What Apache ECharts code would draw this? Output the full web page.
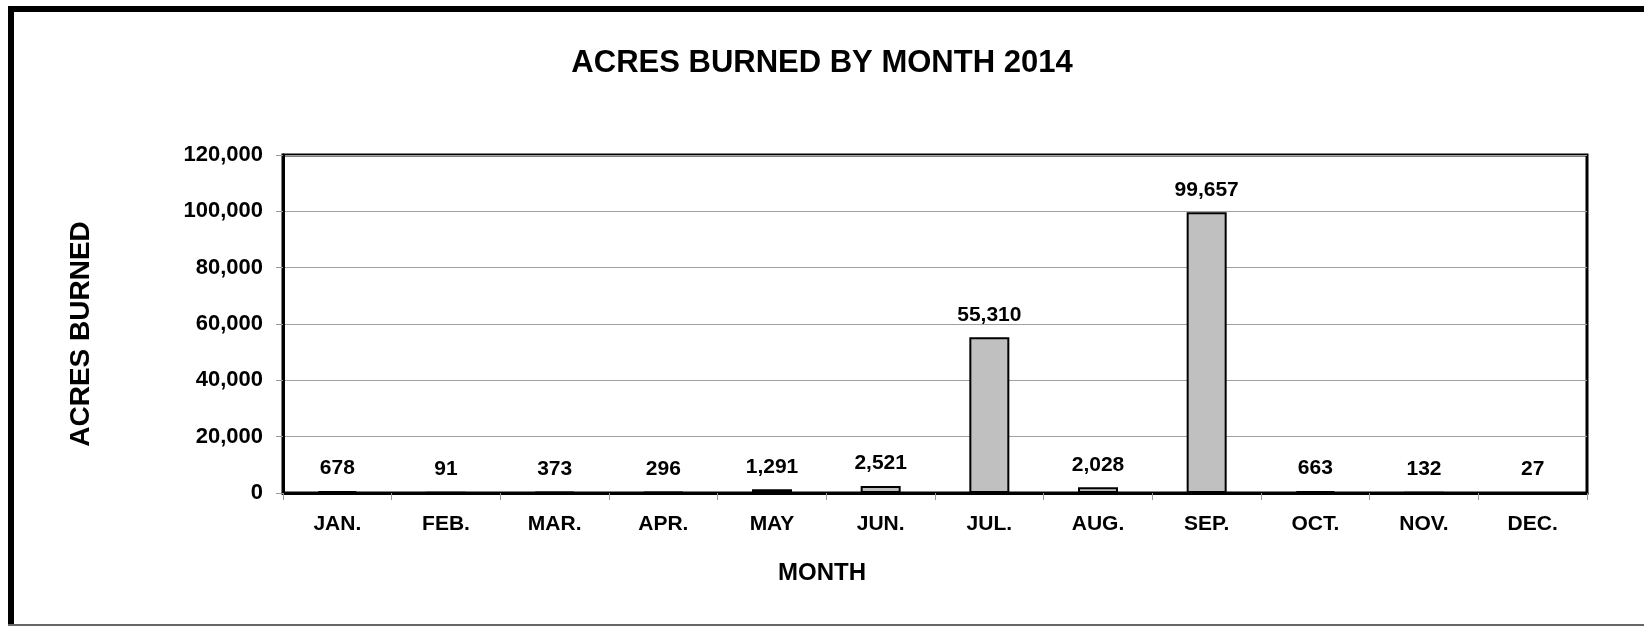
<!DOCTYPE html>
<html>
<head>
<meta charset="utf-8">
<title>Acres burned by month 2014</title>
<script src="https://cdn.jsdelivr.net/npm/echarts@6/dist/echarts.min.js"></script>
<style>
	html, body { margin: 0; padding: 0; background: #fff; }
	#chart { width: 1644px; height: 626px; }
</style>
</head>
<body>
<div id="chart"></div>
<script>
const months = ["JAN.", "FEB.", "MAR.", "APR.", "MAY", "JUN.", "JUL.", "AUG.", "SEP.", "OCT.", "NOV.", "DEC."];
const acres = [678, 91, 373, 296, 1291, 2521, 55310, 2028, 99657, 663, 132, 27];
const yTicks = [0, 20000, 40000, 60000, 80000, 100000, 120000];

const font = "Liberation Sans";
const fmt = (v) => Number(v).toLocaleString("en-US");

const chart = echarts.init(document.getElementById("chart"), null, { renderer: "canvas" });

chart.setOption({
	animation       : false,
	backgroundColor : "#fff",
	title           : [
		{
			text      : "ACRES BURNED BY MONTH 2014",
			left      : "center",
			top       : 43,
			textStyle : {
				fontFamily : font,
				fontWeight : "bold",
				fontSize   : 31,
				color      : "#000",
			},
		},
		{
			// the x axis name sits at the page centre, not the plot centre
			text      : "MONTH",
			left      : "center",
			top       : 556,
			textStyle : {
				fontFamily : font,
				fontWeight : "bold",
				fontSize   : 24,
				color      : "#000",
			},
		},
	],
	// outer frame of the original picture
	graphic: [
		{ type: "line", shape: { x1: 11, y1: 6, x2: 11, y2: 626 }, style: { stroke: "#000", lineWidth: 6 } },
		{ type: "line", shape: { x1: 8, y1: 9, x2: 1644, y2: 9 }, style: { stroke: "#000", lineWidth: 6 } },
		{ type: "line", shape: { x1: 8, y1: 625, x2: 1644, y2: 625 }, style: { stroke: "#666", lineWidth: 2 } },
	],
	grid: {
		left        : 283,
		right       : 57,
		top         : 155,
		bottom      : 133,
		show        : true,
		borderColor : "#000",
		borderWidth : 3,
	},
	xAxis: {
		type     : "category",
		data     : months,
		axisLine : {
			lineStyle: { color: "#000", width: 3 },
		},
		axisTick: {
			show      : true,
			length    : 7,
			lineStyle : { color: "#999", width: 1 },
		},
		axisLabel: {
			margin     : 21,
			fontFamily : font,
			fontWeight : "bold",
			fontSize   : 21,
			color      : "#000",
		},
	},
	yAxis: {
		type          : "value",
		min           : yTicks[0],
		max           : yTicks[yTicks.length - 1],
		interval      : yTicks[1] - yTicks[0],
		name          : "ACRES BURNED",
		nameLocation  : "middle",
		nameGap       : 188,
		nameTextStyle : {
			fontFamily : font,
			fontWeight : "bold",
			fontSize   : 28,
			color      : "#000",
			padding    : [0, 20, 0, 0],
		},
		axisLine: {
			show      : true,
			lineStyle : { color: "#000", width: 3 },
		},
		axisTick: {
			show      : true,
			length    : 7,
			lineStyle : { color: "#999", width: 1 },
		},
		splitLine: {
			lineStyle: { color: "#a0a0a0", width: 1 },
		},
		axisLabel: {
			margin     : 20,
			formatter  : fmt,
			fontFamily : font,
			fontWeight : "bold",
			fontSize   : 22,
			color      : "#000",
		},
	},
	series: [
		{
			type      : "bar",
			data      : acres,
			barWidth  : 40,
			itemStyle : {
				color       : "#c0c0c0",
				borderColor : "#000",
				borderWidth : 2,
			},
			label: {
				show       : true,
				position   : "top",
				distance   : 12,
				formatter  : (p) => fmt(p.value),
				fontFamily : font,
				fontWeight : "bold",
				fontSize   : 21,
				color      : "#000",
			},
		},
	],
});
</script>
</body>
</html>
